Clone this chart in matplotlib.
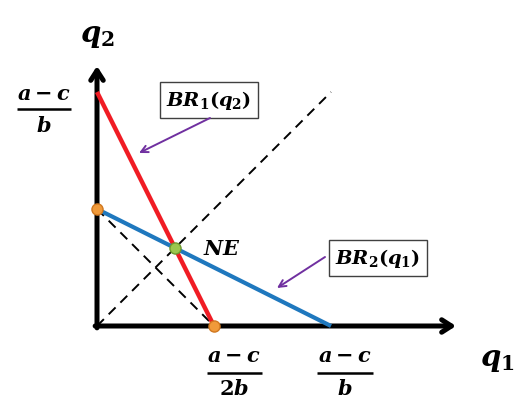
"""
Diagrama de Cournot: funções de melhor resposta e equilíbrio de Nash.
Saída: out.png
"""
import matplotlib.pyplot as plt

plt.rcParams["mathtext.fontset"] = "custom"
plt.rcParams["mathtext.it"] = "DejaVu Serif:italic:bold"
plt.rcParams["mathtext.rm"] = "DejaVu Serif:bold"
plt.rcParams["mathtext.bf"] = "DejaVu Serif:bold"

# (a-c)/b = 1
br1_q1 = [0.0, 0.5]
br1_q2 = [1.0, 0.0]
br2_q1 = [0.0, 1.0]
br2_q2 = [0.5, 0.0]
diag_q = [0.0, 1.0]
ne_q1, ne_q2 = 1 / 3, 1 / 3
corner_q1 = [0.0, 0.5]
corner_q2 = [0.5, 0.0]

PX = 234.0  # pixels por unidade
X0, Y0 = 97.0, 326.0


def px(x, y):
    return (x - X0) / PX, (Y0 - y) / PX


def main() -> None:
    fig = plt.figure(figsize=(5.32, 4.04), dpi=100)
    ax = fig.add_axes([0, 0, 1, 1])
    ax.set_xlim(px(0, 0)[0], px(532, 0)[0])
    ax.set_ylim(px(0, 404)[1], px(0, 0)[1])
    ax.axis("off")

    # eixos com setas
    arrow = dict(arrowstyle="->,head_length=0.7,head_width=0.45", lw=3.6,
                 color="black", shrinkA=0, shrinkB=0)
    ax.annotate("", xy=(px(456, 0)[0], 0), xytext=(-0.008, 0), arrowprops=arrow, zorder=1)
    ax.annotate("", xy=(0, px(0, 66)[1]), xytext=(0, -0.008), arrowprops=arrow, zorder=1)

    # linhas tracejadas
    ax.plot(diag_q, diag_q, color="black", lw=1.4, ls=(0, (5, 3.5)), zorder=2)
    ax.plot(corner_q1, corner_q2, color="black", lw=1.4, ls=(0, (5, 3.5)), zorder=2)

    # melhores respostas
    ax.plot(br1_q1, br1_q2, color="#F01C24", lw=3.2, solid_capstyle="butt", zorder=3)
    ax.plot(br2_q1, br2_q2, color="#1F78BE", lw=3.0, solid_capstyle="butt", zorder=3)

    ax.plot(corner_q1, corner_q2, "o", ms=8, mfc="#F09A3A", mec="#D07820", mew=1, zorder=4)
    ax.plot([ne_q1], [ne_q2], "o", ms=8, mfc="#9CC74E", mec="#6E9A30", mew=1, zorder=4)

    # rótulos
    ax.text(*px(97, 36), r"$q_2$", fontsize=21, ha="center", va="center")
    ax.text(*px(497, 360), r"$q_1$", fontsize=21, ha="center", va="center")
    ax.text(*px(222, 249), r"$NE$", fontsize=15, ha="center", va="center")

    def frac(cx, y_num, y_bar, y_den, den, width):
        ax.text(*px(cx, y_num), r"$a-c$", fontsize=15, ha="center", va="center")
        x_l, yb = px(cx - width / 2, y_bar)
        x_r, _ = px(cx + width / 2, y_bar)
        ax.plot([x_l, x_r], [yb, yb], color="black", lw=1.8, solid_capstyle="butt")
        ax.text(*px(cx, y_den), den, fontsize=15, ha="center", va="center")

    frac(44, 94, 109, 126, r"$b$", 54)
    frac(234, 356, 373, 389, r"$2b$", 55)
    frac(345, 356, 373, 389, r"$b$", 56)

    # caixas
    box = dict(boxstyle="square,pad=0.35", fc="white", ec="#404040", lw=1)
    ax.text(*px(209, 100), r"$BR_1(q_2)$", fontsize=14, ha="center", va="center", bbox=box)
    ax.text(*px(378, 258), r"$BR_2(q_1)$", fontsize=14, ha="center", va="center", bbox=box)

    purple = dict(arrowstyle="->,head_length=0.5,head_width=0.25", lw=1.4,
                  color="#7030A0", shrinkA=0, shrinkB=0)
    ax.annotate("", xy=px(139, 153), xytext=px(210, 118), arrowprops=purple)
    ax.annotate("", xy=px(277, 288), xytext=px(325, 257), arrowprops=purple)

    fig.savefig("out.png", dpi=100)
    plt.close(fig)


if __name__ == "__main__":
    main()
